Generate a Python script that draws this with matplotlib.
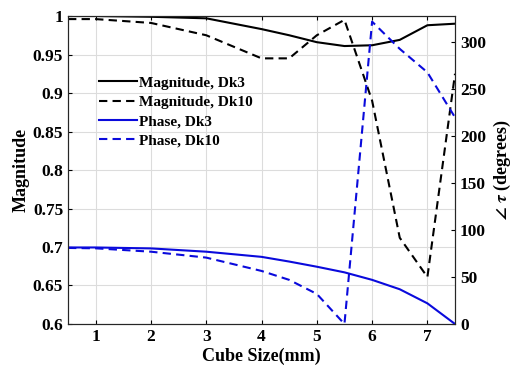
import matplotlib
matplotlib.use('Agg')
import matplotlib.pyplot as plt
import numpy as np

plt.rcParams['font.family'] = ['Liberation Serif', 'DejaVu Serif']
plt.rcParams['font.weight'] = 'bold'
plt.rcParams['mathtext.fontset'] = 'stix'

# cube size (mm)
cube_size = [0.5, 1, 2, 3, 4, 4.5, 5, 5.5, 6, 6.5, 7, 7.5]

# magnitude
mag_dk3 = [1.0, 1.0, 0.999, 0.997, 0.983, 0.975, 0.966, 0.961, 0.962, 0.969, 0.988, 0.990]
mag_dk10 = [0.996, 0.996, 0.991, 0.975, 0.945, 0.945, 0.975, 0.995, 0.89, 0.712, 0.661, 0.925]

# phase (degrees)
phase_dk3 = [81.5, 81.5, 80.5, 77, 71.5, 66.5, 61, 55, 47, 37, 22, 0]
phase_dk10 = [81, 80.6, 77, 70.7, 56.5, 47, 32, 0, 322, 293, 268, 220]

fig = plt.figure(figsize=(5.13, 3.74), dpi=100)
ax = fig.add_axes([0.1326, 0.1337, 0.7544, 0.8235])
ax2 = ax.twinx()

dash = (4, 2.5)
l1, = ax.plot(cube_size, mag_dk3, color='black', lw=1.5, label='Magnitude, Dk3')
l2, = ax.plot(cube_size, mag_dk10, color='black', lw=1.5, ls='--', dashes=dash,
              label='Magnitude, Dk10')
l3, = ax2.plot(cube_size, phase_dk3, color='#0a0adc', lw=1.5, label='Phase, Dk3')
l4, = ax2.plot(cube_size, phase_dk10, color='#0a0adc', lw=1.5, ls='--', dashes=dash,
               label='Phase, Dk10')

ax.set_xlim(0.5, 7.5)
ax.set_ylim(0.6, 1.0)
ax2.set_ylim(0, 328)
ax.set_xticks([1, 2, 3, 4, 5, 6, 7])
ax.set_yticks([0.6, 0.65, 0.7, 0.75, 0.8, 0.85, 0.9, 0.95, 1])
ax.set_yticklabels(['0.6', '0.65', '0.7', '0.75', '0.8', '0.85', '0.9', '0.95', '1'])
ax2.set_yticks([0, 50, 100, 150, 200, 250, 300])

ax.grid(True, color='#dcdcdc', lw=0.8)
ax.set_axisbelow(True)
ax.tick_params(direction='in', labelsize=12.5, top=True, length=3)
ax2.tick_params(direction='in', labelsize=12.5, length=3)
for a in (ax, ax2):
    for s in a.spines.values():
        s.set_color('#262626')
        s.set_linewidth(0.8)

ax.set_xlabel('Cube Size(mm)', fontsize=13, fontweight='bold', labelpad=2)
ax.set_ylabel('Magnitude', fontsize=13, fontweight='bold', labelpad=2)
ax2.set_ylabel(r'$\angle\ \tau$ (degrees)', fontsize=13, fontweight='bold', labelpad=4)

ax.legend(handles=[l1, l2, l3, l4], loc='upper left', bbox_to_anchor=(0.064, 0.825),
          frameon=False, fontsize=11, handlelength=2.5, handletextpad=0.15,
          labelspacing=0.36, borderaxespad=0)

fig.savefig('out.png', dpi=100)
